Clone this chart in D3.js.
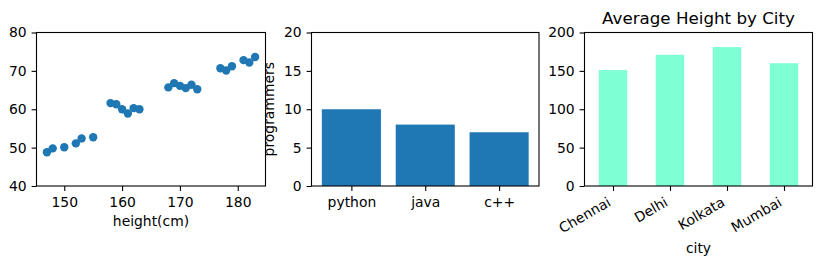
<!DOCTYPE html>
<html>
<head>
<meta charset="utf-8">
<script src="https://cdn.jsdelivr.net/npm/d3@7"></script>
<style>
  body { margin: 0; background: #fff; }
  svg, svg text { font-family: "DejaVu Sans", sans-serif; }
</style>
</head>
<body>
<div id="chart"></div>
<script>
// scatter: height vs weight
const heights = [147, 148, 150, 152, 153, 155, 158, 159, 160, 161, 162, 163, 168, 169, 170, 171, 172, 173, 177, 178, 179, 181, 182, 183];
const weights = [48.8, 49.8, 50.1, 51.1, 52.4, 52.7, 61.6, 61.3, 60.0, 58.9, 60.3, 60.0, 65.7, 66.8, 66.1, 65.5, 66.4, 65.2, 70.7, 70.1, 71.2, 72.8, 72.2, 73.6];
const scatterXTicks = [150, 160, 170, 180];
const scatterYTicks = [40, 50, 60, 70, 80];

// bar: programmers per language
const languages = ["python", "java", "c++"];
const programmers = [10, 8, 7];
const progTicks = [0, 5, 10, 15, 20];

// bar: average height by city
const cities = ["Chennai", "Delhi", "Kolkata", "Mumbai"];
const avgHeights = [151, 171, 181, 160];
const cityTicks = [0, 50, 100, 150, 200];

const W = 822, H = 266;
const axTop = 32.5, axBottom = 186;
const plotH = axBottom - axTop;
const fs = 13.9;
const tickLen = 4.9;

const svg = d3.select("#chart").append("svg")
    .attr("width", W)
    .attr("height", H);

function frame(g, w) {
    g.append("rect")
        .attr("x", 0).attr("y", 0)
        .attr("width", w).attr("height", plotH)
        .attr("fill", "none")
        .attr("stroke", "#000")
        .attr("stroke-width", 1.1);
}

function styleAxis(sel) {
    sel.attr("font-family", "DejaVu Sans");
    sel.select(".domain").remove();
    sel.selectAll(".tick line").attr("stroke", "#000").attr("stroke-width", 1.1);
    sel.selectAll(".tick text").attr("fill", "#000").style("font-size", fs + "px");
}

function yAxis(g, y, ticks) {
    g.append("g")
        .call(d3.axisLeft(y).tickValues(ticks).tickSize(tickLen).tickPadding(4.9))
        .call(styleAxis);
}

function xAxis(g, x, ticks, fmt) {
    const ax = d3.axisBottom(x).tickValues(ticks).tickSize(tickLen).tickPadding(5.9);
    if (fmt) ax.tickFormat(fmt);
    return g.append("g")
        .attr("transform", `translate(0,${plotH})`)
        .call(ax)
        .call(styleAxis);
}

// Scatter
{
    const left = 36.5, right = 265.5;
    const g = svg.append("g").attr("transform", `translate(${left},${axTop})`);
    const x = d3.scaleLinear().domain([145.2, 184.8]).range([0, right - left]);
    const y = d3.scaleLinear().domain([40, 80]).range([plotH, 0]);

    g.selectAll("circle")
        .data(heights.map((h, i) => [h, weights[i]]))
        .enter().append("circle")
        .attr("cx", d => x(d[0]))
        .attr("cy", d => y(d[1]))
        .attr("r", 4.2)
        .attr("fill", "#1f77b4");

    xAxis(g, x, scatterXTicks);
    yAxis(g, y, scatterYTicks);
    frame(g, right - left);

    g.append("text")
        .attr("x", (right - left) / 2)
        .attr("y", 226 - axTop)
        .attr("text-anchor", "middle")
        .style("font-size", fs + "px")
        .text("height(cm)");
}

// Languages bar chart
{
    const left = 311.5, right = 539;
    const g = svg.append("g").attr("transform", `translate(${left},${axTop})`);
    const x = d3.scaleLinear().domain([-0.54, 2.54]).range([0, right - left]);
    const y = d3.scaleLinear().domain([0, 20]).range([plotH, 0]);

    g.selectAll("rect.bar")
        .data(programmers)
        .enter().append("rect")
        .attr("class", "bar")
        .attr("x", (d, i) => x(i - 0.4))
        .attr("y", d => y(d))
        .attr("width", x(0.4) - x(-0.4))
        .attr("height", d => y(0) - y(d))
        .attr("fill", "#1f77b4");

    xAxis(g, x, [0, 1, 2], i => languages[i]);
    yAxis(g, y, progTicks);
    frame(g, right - left);

    g.append("text")
        .attr("transform", `translate(${273.5 - left},${plotH / 2}) rotate(-90)`)
        .attr("text-anchor", "middle")
        .style("font-size", fs + "px")
        .text("programmers");
}

// City bar chart
{
    const left = 584.5, right = 812.5;
    const g = svg.append("g").attr("transform", `translate(${left},${axTop})`);
    const x = d3.scaleLinear().domain([-0.5, 3.5]).range([0, right - left]);
    const y = d3.scaleLinear().domain([0, 200]).range([plotH, 0]);

    g.selectAll("rect.bar")
        .data(avgHeights)
        .enter().append("rect")
        .attr("class", "bar")
        .attr("x", (d, i) => x(i - 0.25))
        .attr("y", d => y(d))
        .attr("width", x(0.25) - x(-0.25))
        .attr("height", d => y(0) - y(d))
        .attr("fill", "#7fffd4");

    const ax = xAxis(g, x, [0, 1, 2, 3], i => cities[i]);
    ax.selectAll(".tick text")
        .attr("y", 0).attr("dy", 0)
        .attr("text-anchor", "end")
        .attr("transform", "translate(-1.6,19) rotate(-30)");
    yAxis(g, y, cityTicks);
    frame(g, right - left);

    g.append("text")
        .attr("x", (right - left) / 2)
        .attr("y", 253 - axTop)
        .attr("text-anchor", "middle")
        .style("font-size", fs + "px")
        .text("city");

    g.append("text")
        .attr("x", (right - left) / 2)
        .attr("y", 24 - axTop)
        .attr("text-anchor", "middle")
        .style("font-size", "16.7px")
        .text("Average Height by City");
}
</script>
</body>
</html>
